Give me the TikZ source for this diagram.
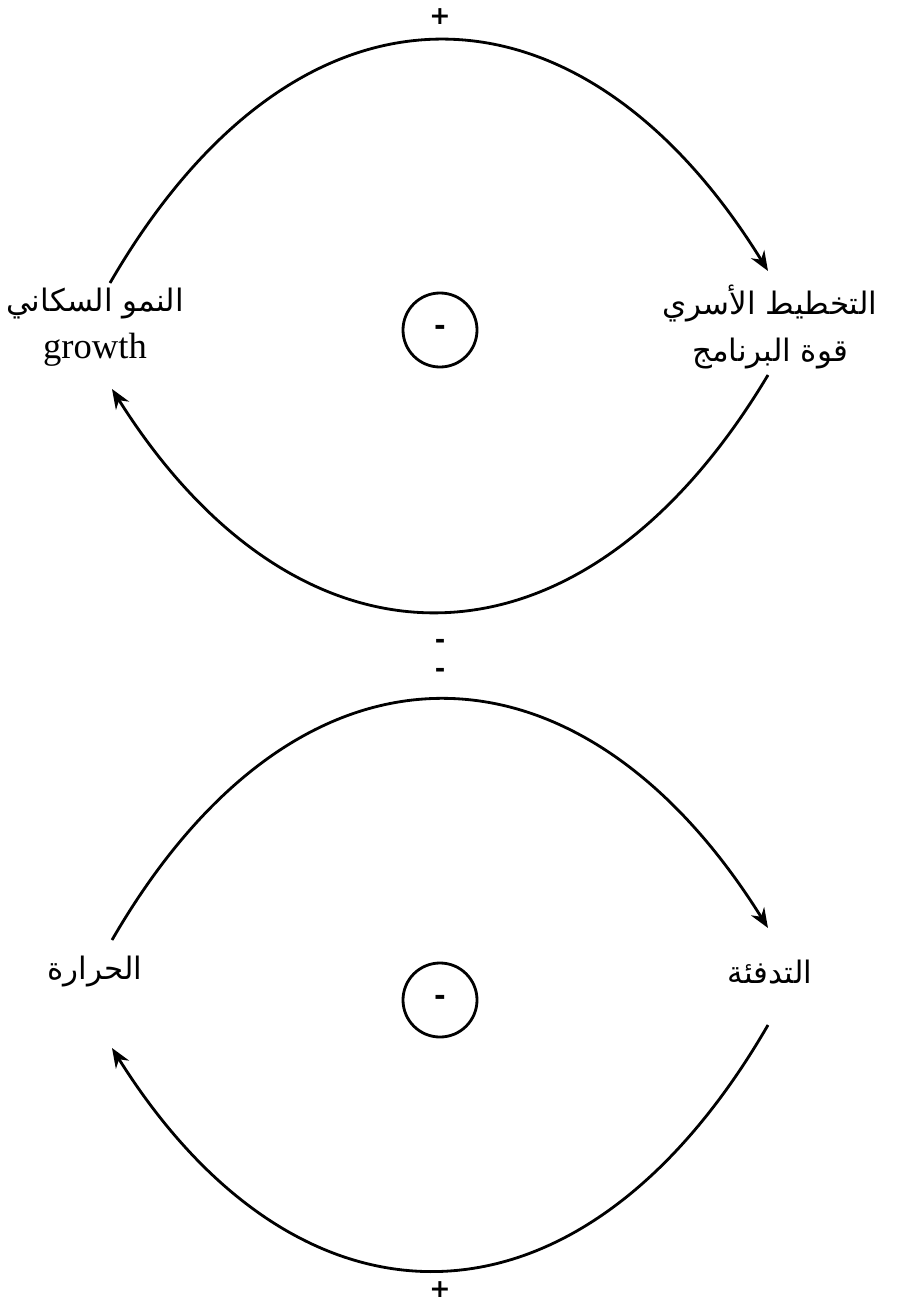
\documentclass[tikz,border=0pt]{standalone}
\usepackage{fontspec}
\setmainfont{Liberation Serif}
\newfontfamily\arabicfont[Script=Arabic]{DejaVu Sans}
\newfontfamily\signfont{DejaVu Sans}
\TeXXeTstate=1
\usetikzlibrary{arrows.meta,calc}

\begin{document}
\begin{tikzpicture}[x=0.025cm, y=-0.025cm,
  link/.style={-{Stealth[length=14pt,width=11pt]}, line width=2pt},
  varlabel/.style={font=\fontsize{22}{33}\selectfont, align=center, inner sep=0pt},
  loopmark/.style={draw, circle, line width=2pt, minimum size=1.85cm, inner sep=0pt, font=\signfont\fontsize{20}{20}\selectfont\bfseries},
  polarity/.style={font=\signfont\fontsize{18}{18}\selectfont\bfseries, inner sep=0pt}]
  \useasboundingbox (0,0) rectangle (898,1308);
  % Upper loop
  \node[varlabel] (pop) at (95,327) {{\arabicfont\beginR النمو السكاني\endR}\\{\fontsize{26}{33}\selectfont growth}};
  \node[varlabel] (fam) at (770,327) {{\arabicfont\beginR التخطيط الأسري\endR}\\{\arabicfont\beginR قوة البرنامج\endR}};
  \node[loopmark] (loopA) at (440,330) {-};
  \node[polarity] (plusA) at (440,17) {+};
  \node[polarity] (minusA) at (440,644) {-};
  \draw[link] ($(pop.center)+(15,-44)$) .. controls (300,-45) and (581,-32) .. ($(fam.center)+(-2,-56)$);
  \draw[link] ($(fam.center)+(-2,48)$) .. controls (581,688) and (300,688) .. ($(pop.center)+(17,62)$);
  % Lower loop
  \node[varlabel] (heat) at (95,972) {\arabicfont\beginR الحرارة\endR};
  \node[varlabel] (warm) at (770,972) {\arabicfont\beginR التدفئة\endR};
  \node[loopmark] (loopB) at (440,1000) {-};
  \node[polarity] (minusB) at (440,673) {-};
  \node[polarity] (plusB) at (440,1290) {+};
  \draw[link] ($(heat.center)+(17,-32)$) .. controls (300,615) and (581,628) .. ($(warm.center)+(-2,-44)$);
  \draw[link] ($(warm.center)+(-2,53)$) .. controls (581,1348) and (300,1348) .. ($(heat.center)+(17,76)$);
\end{tikzpicture}
\end{document}
